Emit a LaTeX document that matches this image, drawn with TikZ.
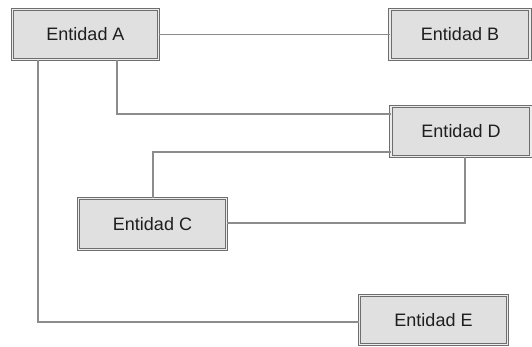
\documentclass[tikz,border=0pt]{standalone}
\usepackage{fontspec}
\setmainfont{Liberation Sans}
\definecolor{boxfill}{RGB}{224,224,224}
\definecolor{boxline}{RGB}{110,110,110}
\definecolor{linkline}{RGB}{140,140,140}
\definecolor{labeltext}{RGB}{30,30,30}
\begin{document}
\begin{tikzpicture}[x=1pt,y=-1pt,
  entity/.style={draw=boxline, line width=1pt, double=boxfill!60!white,
    double distance=1.1pt, fill=boxfill, inner sep=0pt,
    font=\fontsize{18}{21}\selectfont, text=labeltext},
  link/.style={draw=linkline, line width=1.1pt}]
  \useasboundingbox (0,0) rectangle (532,347);
  % entities
  \node[entity, minimum width=146pt, minimum height=50pt] (A) at (85.5,34.5) {Entidad A};
  \node[entity, minimum width=140pt, minimum height=50pt] (B) at (460,34.5) {Entidad B};
  \node[entity, minimum width=140pt, minimum height=50pt] (D) at (461,131.5) {Entidad D};
  \node[entity, minimum width=148pt, minimum height=51pt] (C) at (152.5,224) {Entidad C};
  \node[entity, minimum width=148pt, minimum height=49pt] (E) at (433.5,320) {Entidad E};
  % relationships
  \draw[link] (A.east) -- (B.west);
  \draw[link] (A.south -| 117,0) |- (D.west |- 0,114);
  \draw[link] (D.west |- 0,152) -| (C.north -| 153,0);
  \draw[link] (D.south -| 465,0) |- (C.east |- 0,223);
  \draw[link] (A.south -| 38,0) |- (E.west |- 0,322);
\end{tikzpicture}
\end{document}
